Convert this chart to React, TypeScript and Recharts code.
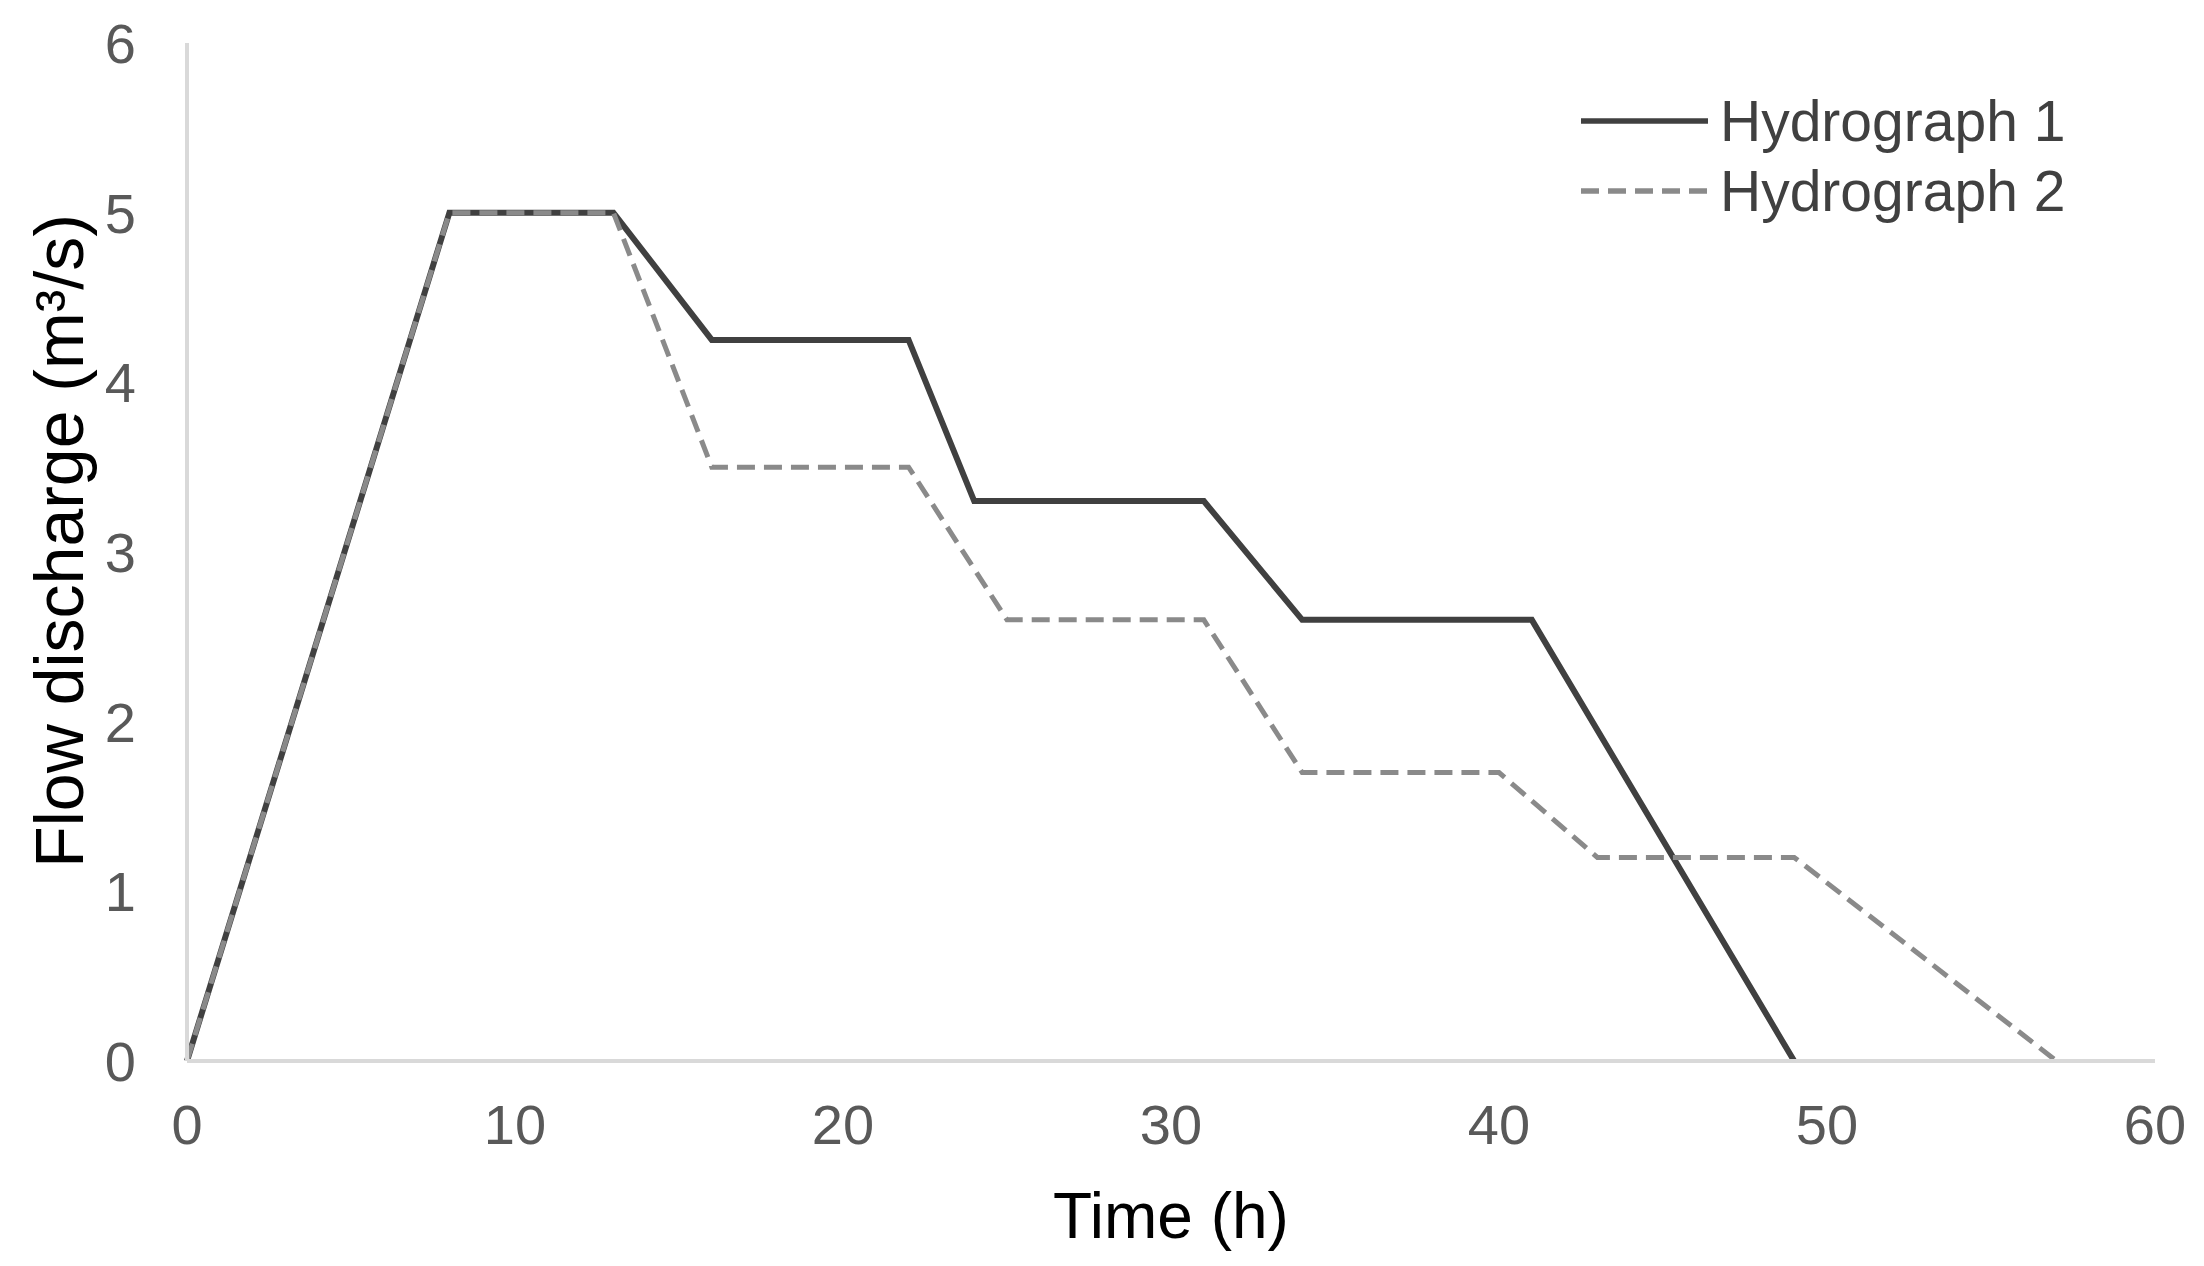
import { LineChart, Line, XAxis, YAxis, Legend } from 'recharts';

const h1Time = [0, 8, 13, 16, 22, 24, 31, 34, 41, 49];
const h1Flow = [0, 5, 5, 4.25, 4.25, 3.3, 3.3, 2.6, 2.6, 0];

const h2Time = [0, 8, 13, 16, 22, 25, 31, 34, 40, 43, 49, 57];
const h2Flow = [0, 5, 5, 3.5, 3.5, 2.6, 2.6, 1.7, 1.7, 1.2, 1.2, 0];

const xTicks = [0, 10, 20, 30, 40, 50, 60];
const yTicks = [0, 1, 2, 3, 4, 5, 6];

const hydro1 = h1Time.map((t, i) => ({ t, q: h1Flow[i] }));
const hydro2 = h2Time.map((t, i) => ({ t, q: h2Flow[i] }));

const FONT = '"Liberation Sans", Arial, sans-serif';

const LegendBox = ({ payload }: any) => (
  <div style={{ fontFamily: FONT }}>
    {(payload || []).map((p: any) => (
      <div key={p.value} style={{ display: 'flex', alignItems: 'center', height: 70 }}>
        <svg width={127} height={10}>
          <line
            x1={0}
            y1={5}
            x2={127}
            y2={5}
            stroke={p.color}
            strokeWidth={5.5}
            strokeDasharray={p.payload?.strokeDasharray}
          />
        </svg>
        <span style={{ fontSize: 57, color: '#404040', marginLeft: 12, lineHeight: '70px' }}>
          {p.value}
        </span>
      </div>
    ))}
  </div>
);

export default function App() {
  return (
    <div style={{ position: 'absolute', left: 0, top: 0 }}>
      <LineChart
        width={2204}
        height={1266}
        margin={{ top: 43, right: 49, bottom: 0, left: 0 }}
        style={{ fontFamily: FONT }}
      >
        <XAxis
          type="number"
          dataKey="t"
          domain={[0, 60]}
          ticks={xTicks}
          height={205}
          tickLine={false}
          tickMargin={37}
          axisLine={{ stroke: '#d9d9d9', strokeWidth: 4 }}
          tick={{ fill: '#595959', fontSize: 56 }}
          label={{
            content: ({ viewBox }: any) => (
              <text
                x={viewBox.x + viewBox.width / 2}
                y={viewBox.y + 177}
                textAnchor="middle"
                fill="#000"
                fontSize={64}
                fontFamily={FONT}
              >
                Time (h)
              </text>
            ),
          }}
        />
        <YAxis
          type="number"
          domain={[0, 6]}
          ticks={yTicks}
          width={187}
          tickLine={false}
          tickMargin={45}
          axisLine={{ stroke: '#d9d9d9', strokeWidth: 4 }}
          tick={{ fill: '#595959', fontSize: 56 }}
          label={{
            content: ({ viewBox }: any) => {
              const x = viewBox.x + 83;
              const y = viewBox.y + viewBox.height / 2 - 11;
              return (
                <text
                  x={x}
                  y={y}
                  transform={`rotate(-90 ${x} ${y})`}
                  textAnchor="middle"
                  fill="#000"
                  fontSize={68}
                  fontFamily={FONT}
                >
                  Flow discharge (m³/s)
                </text>
              );
            },
          }}
        />
        <Legend
          layout="horizontal"
          verticalAlign="middle"
          align="center"
          content={<LegendBox />}
          wrapperStyle={{ position: 'absolute', left: 1581, top: 86, width: 'auto' }}
        />
        <Line
          data={hydro1}
          dataKey="q"
          name="Hydrograph 1"
          type="linear"
          stroke="#404040"
          strokeWidth={6}
          dot={false}
          activeDot={false}
          isAnimationActive={false}
        />
        <Line
          data={hydro2}
          dataKey="q"
          name="Hydrograph 2"
          type="linear"
          stroke="#8a8a8a"
          strokeWidth={5}
          strokeDasharray="18 9"
          dot={false}
          activeDot={false}
          isAnimationActive={false}
        />
      </LineChart>
    </div>
  );
}
